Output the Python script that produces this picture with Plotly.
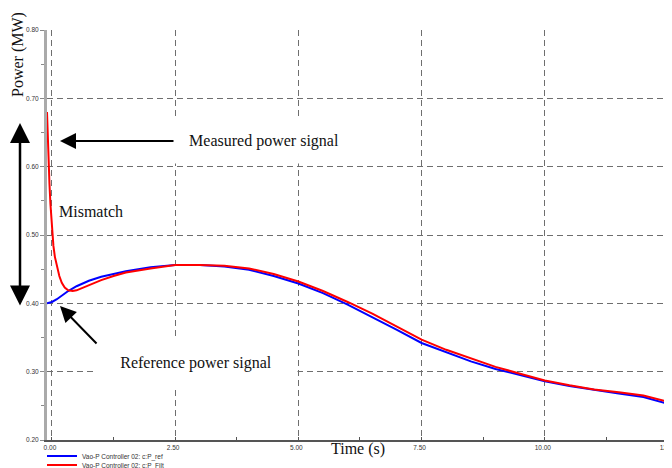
import plotly.graph_objects as go

# ---- data ----
t_ref = [-0.1, 0.0, 0.1, 0.2, 0.33, 0.5, 0.75, 1.0, 1.25, 1.5, 2.0, 2.5, 3.0, 3.5,
         4.0, 4.5, 5.0, 5.5, 6.0, 6.5, 7.0, 7.5, 8.0, 8.5, 9.0, 9.5, 10.0, 10.5,
         11.0, 11.5, 12.0, 12.5]
p_ref = [0.400, 0.402, 0.406, 0.411, 0.418, 0.425, 0.433, 0.439, 0.443, 0.447, 0.453,
         0.456, 0.456, 0.454, 0.449, 0.440, 0.429, 0.415, 0.398, 0.380, 0.361, 0.342,
         0.328, 0.315, 0.304, 0.295, 0.286, 0.279, 0.273, 0.268, 0.263, 0.253]

t_filt = [-0.1, -0.09, -0.07, -0.05, -0.03, 0.0, 0.03, 0.06, 0.1, 0.15, 0.2, 0.26,
          0.33, 0.42, 0.5, 0.6, 0.75, 1.0, 1.25, 1.5, 2.0, 2.5, 3.0, 3.5, 4.0, 4.5,
          5.0, 5.5, 6.0, 6.5, 7.0, 7.5, 8.0, 8.5, 9.0, 9.5, 10.0, 10.5, 11.0, 11.5,
          12.0, 12.5]
p_filt = [0.680, 0.650, 0.610, 0.575, 0.545, 0.505, 0.484, 0.468, 0.454, 0.440, 0.430,
          0.423, 0.419, 0.418, 0.419, 0.422, 0.427, 0.434, 0.440, 0.445, 0.451, 0.456,
          0.456, 0.455, 0.451, 0.443, 0.432, 0.418, 0.402, 0.385, 0.366, 0.347, 0.332,
          0.319, 0.307, 0.297, 0.287, 0.280, 0.274, 0.270, 0.265, 0.256]

x_tickvals = [0.0, 2.5, 5.0, 7.5, 10.0, 12.5]
x_ticktext = ["0.00", "2.50", "5.00", "7.50", "10.00", "12.5"]
y_tickvals = [0.2, 0.3, 0.4, 0.5, 0.6, 0.7, 0.8]
y_ticktext = ["0.20", "0.30", "0.40", "0.50", "0.60", "0.70", "0.80"]

name_ref = "Vao-P Controller 02: c:P_ref"
name_filt = "Vao-P Controller 02: c:P_Filt"

# ---- layout geometry (page body has an 8px margin) ----
OFF = 8
W, H = 672 - OFF, 468 - OFF
PL, PR, PT, PB = 47, 669, 30, 440          # plot area in screen pixels
L, T = PL - OFF, PT - OFF
R, B = W - (PR - OFF), H - (PB - OFF)

def xp(px):
    return (px - PL) / (PR - PL)

def yp(py):
    return (PB - py) / (PB - PT)

SERIF = "Liberation Serif"
SANS = "Liberation Sans"
GRID = "#6e6e6e"

fig = go.Figure()
fig.add_trace(go.Scatter(x=t_ref, y=p_ref, mode="lines", name=name_ref,
                         line=dict(color="#0000ff", width=2), legend="legend",
                         showlegend=True))
fig.add_trace(go.Scatter(x=t_filt, y=p_filt, mode="lines", name=name_filt,
                         line=dict(color="#ff0000", width=2), legend="legend2",
                         showlegend=True))

annotations = []
# text boxes (white background interrupts the grid like the reference)
annotations.append(dict(xref="paper", yref="paper", x=xp(264), y=yp(141),
                        text="Measured power signal", showarrow=False,
                        font=dict(family=SERIF, size=16, color="#111"),
                        bgcolor="white", width=186, height=42,
                        xanchor="center", yanchor="middle"))
annotations.append(dict(xref="paper", yref="paper", x=xp(196), y=yp(363),
                        text="Reference power signal", showarrow=False,
                        font=dict(family=SERIF, size=16, color="#111"),
                        bgcolor="white", width=200, height=46,
                        xanchor="center", yanchor="middle"))
annotations.append(dict(xref="paper", yref="paper", x=xp(91), y=yp(212),
                        text="Mismatch", showarrow=False,
                        font=dict(family=SERIF, size=16, color="#111"),
                        xanchor="center", yanchor="middle"))
# axis titles
annotations.append(dict(xref="paper", yref="paper", x=xp(18), y=yp(55),
                        text="Power (MW)", showarrow=False, textangle=-90,
                        font=dict(family=SERIF, size=16, color="#111"),
                        xanchor="center", yanchor="middle"))
annotations.append(dict(xref="paper", yref="paper", x=xp(358), y=yp(449),
                        text="Time (s)", showarrow=False,
                        font=dict(family=SERIF, size=16, color="#111"),
                        xanchor="center", yanchor="middle"))
# arrows
annotations.append(dict(xref="paper", yref="paper", x=xp(60), y=yp(141),
                        ax=115, ay=0, text="", showarrow=True,
                        arrowhead=2, arrowsize=1.6, arrowwidth=2, arrowcolor="black"))
annotations.append(dict(xref="paper", yref="paper", x=xp(60), y=yp(306),
                        ax=38, ay=39, text="", showarrow=True,
                        arrowhead=2, arrowsize=1.6, arrowwidth=2, arrowcolor="black"))
annotations.append(dict(xref="paper", yref="paper", x=xp(20), y=yp(123),
                        ax=0, ay=184, text="", showarrow=True, arrowside="end+start",
                        arrowhead=2, startarrowhead=2, arrowsize=1.6, startarrowsize=1.6,
                        arrowwidth=2.5, arrowcolor="black"))

fig.update_layout(
    width=W, height=H,
    showlegend=True,
    margin=dict(l=L, r=R, t=T, b=B, pad=0, autoexpand=False),
    paper_bgcolor="white", plot_bgcolor="white",
    font=dict(family=SANS, size=7, color="#333"),
    annotations=annotations,
    legend=dict(x=xp(42), y=yp(456), xanchor="left", yanchor="middle",
                font=dict(family=SANS, size=6.5, color="#333"),
                bgcolor="rgba(0,0,0,0)", borderwidth=0, visible=True),
    legend2=dict(x=xp(42), y=yp(465), xanchor="left", yanchor="middle",
                 font=dict(family=SANS, size=6.5, color="#333"),
                 bgcolor="rgba(0,0,0,0)", borderwidth=0, visible=True),
    xaxis=dict(range=[-0.1, 12.52], tickvals=x_tickvals, ticktext=x_ticktext,
               automargin=False, ticklabeloverflow="allow", ticklabelshift=-2,
               showgrid=True, gridcolor=GRID, griddash="6px,4px", gridwidth=1,
               showline=True, linecolor="#555", linewidth=1.5, zeroline=False,
               ticks="", tickfont=dict(family=SANS, size=6.5, color="#333"),
               minor=dict(ticks="inside", ticklen=3, tickcolor="#555",
                          tick0=0, dtick=1.25, showgrid=False)),
    yaxis=dict(range=[0.2, 0.8], tickvals=y_tickvals, ticktext=y_ticktext,
               automargin=False,
               showgrid=True, gridcolor=GRID, griddash="6px,4px", gridwidth=1,
               showline=True, linecolor="#aaa", linewidth=3, zeroline=False,
               ticks="outside", ticklen=4, tickcolor="#888",
               tickfont=dict(family=SANS, size=6.5, color="#333"),
               minor=dict(ticks="outside", ticklen=3, tickcolor="#888",
                          tick0=0.2, dtick=0.05, showgrid=False)),
)

fig.write_html("out.html")
